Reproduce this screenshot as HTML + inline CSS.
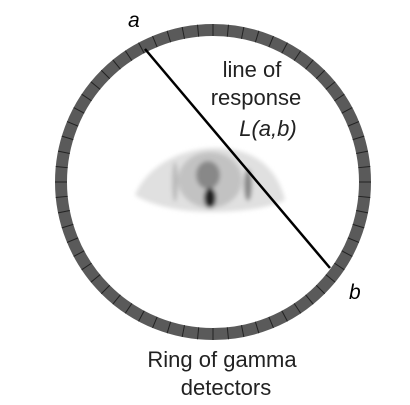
<!DOCTYPE html>
<html><head><style>
html,body{margin:0;padding:0;background:#fff}
svg{display:block;font-family:"Liberation Sans",sans-serif}
</style></head><body>
<svg width="410" height="405" viewBox="0 0 410 405">
<defs>
<filter id="bl"><feGaussianBlur stdDeviation="2"/></filter>
</defs>
<g filter="url(#bl)">
<path d="M135,195 C150,160 190,148 215,148 C245,148 275,160 285,200 C270,208 240,212 210,212 C180,212 150,205 135,195 Z" fill="#e0e0e0"/>
<ellipse cx="210" cy="180" rx="32" ry="28" fill="#c2c2c2"/>
<ellipse cx="208" cy="175" rx="12" ry="14" fill="#888"/>
<ellipse cx="210" cy="198" rx="6" ry="10" fill="#222"/>
<ellipse cx="248" cy="185" rx="4" ry="16" fill="#888"/>
<ellipse cx="175" cy="182" rx="3" ry="20" fill="#bbb"/>
</g>
<circle cx="213" cy="182" r="152" fill="none" stroke="#5a5a5a" stroke-width="12"/>
<g id="ticks" stroke="#222" stroke-width="1"></g>
<line x1="145" y1="49" x2="330" y2="268" stroke="#000" stroke-width="2.5"/>
<text x="128" y="27" font-size="21" font-style="italic">a</text>
<text x="349" y="299" font-size="21" font-style="italic">b</text>
<text x="252" y="77" font-size="22" text-anchor="middle" fill="#222">line of</text>
<text x="256" y="105" font-size="22" text-anchor="middle" fill="#222">response</text>
<text x="268" y="136" font-size="22" text-anchor="middle" font-style="italic" fill="#222">L(a,b)</text>
<text x="222" y="367" font-size="22" text-anchor="middle" fill="#222">Ring of gamma</text>
<text x="226" y="395" font-size="22" text-anchor="middle" fill="#222">detectors</text>
</svg>
<script>
const g=document.getElementById('ticks');
const N=64;
for(let i=0;i<N;i++){
  const t=i/N*2*Math.PI;
  const l=document.createElementNS('http://www.w3.org/2000/svg','line');
  l.setAttribute('x1',213+146*Math.cos(t));l.setAttribute('y1',182+146*Math.sin(t));
  l.setAttribute('x2',213+158*Math.cos(t));l.setAttribute('y2',182+158*Math.sin(t));
  
  
  g.appendChild(l);
}
</script>
</body></html>
